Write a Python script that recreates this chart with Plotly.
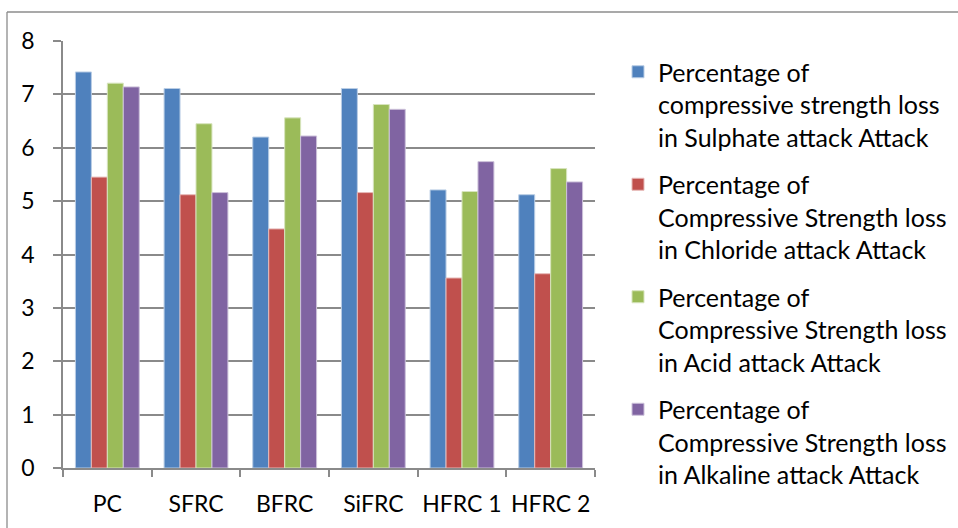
import plotly.graph_objects as go

categories = ["PC", "SFRC", "BFRC", "SiFRC", "HFRC 1", "HFRC 2"]
series_names = [
    "Percentage of<br>compressive strength loss<br>in Sulphate attack Attack",
    "Percentage of<br>Compressive Strength loss<br>in Chloride attack Attack",
    "Percentage of<br>Compressive Strength loss<br>in Acid attack Attack",
    "Percentage of<br>Compressive Strength loss<br>in Alkaline attack Attack",
]
sulphate = [7.42, 7.11, 6.20, 7.11, 5.21, 5.12]
chloride = [5.45, 5.12, 4.48, 5.16, 3.56, 3.64]
acid = [7.21, 6.45, 6.56, 6.81, 5.18, 5.61]
alkaline = [7.14, 5.16, 6.22, 6.72, 5.74, 5.36]
y_ticks = [0, 1, 2, 3, 4, 5, 6, 7, 8]

series_values = [sulphate, chloride, acid, alkaline]
fill_colors = ["#4F81BD", "#C0504D", "#9BBB59", "#8064A2"]
edge_colors = ["#B9CDE5", "#E6B9B8", "#D7E4BD", "#CCC1DA"]

FONT = "Lato"
W, H = 958, 528
ML, MR, MT, MB = 63, 363, 41, 60
PW, PH = W - ML - MR, H - MT - MB

fig = go.Figure()
for i, (name, vals) in enumerate(zip(series_names, series_values)):
    fig.add_trace(go.Bar(
        x=categories, y=vals, name=name, legendgroup=f"g{i}",
        marker=dict(color=fill_colors[i], line=dict(color=edge_colors[i], width=1)),
    ))

grid_color = "#8A8A8A"


def px_x(px):
    return (px - ML) / PW


def px_y(py):
    return (H - MB - py) / PH


# outer chart frame (left and top edges visible, the rest runs off the page)
fig.add_shape(type="line", xref="paper", yref="paper",
              x0=px_x(7), x1=px_x(W + 5), y0=px_y(12), y1=px_y(12),
              line=dict(color="#8C8C8C", width=1.3))
fig.add_shape(type="line", xref="paper", yref="paper",
              x0=px_x(7), x1=px_x(7), y0=px_y(12), y1=px_y(H + 5),
              line=dict(color="#8C8C8C", width=1.3))

fig.update_layout(
    width=W, height=H,
    margin=dict(l=ML, r=MR, t=MT, b=MB, autoexpand=False),
    paper_bgcolor="white", plot_bgcolor="white",
    barmode="group", bargap=0.28, bargroupgap=0,
    font=dict(family=FONT, color="#000000"),
    showlegend=True,
    legend=dict(
        x=px_x(618), y=px_y(49), xanchor="left", yanchor="top",
        font=dict(family=FONT, size=25, color="#000000"),
        valign="top", tracegroupgap=12, itemwidth=30,
        bgcolor="rgba(0,0,0,0)", maxheight=520,
    ),
    xaxis=dict(
        type="category", showgrid=False, showline=True,
        linecolor=grid_color, linewidth=1.5,
        ticks="outside", tickson="boundaries", ticklen=7,
        tickcolor=grid_color, tickwidth=1.5, tickangle=0,
        tickfont=dict(family=FONT, size=23, color="#000000"),
        ticklabelstandoff=15,
        fixedrange=True,
    ),
    yaxis=dict(
        range=[0, 8], tickvals=y_ticks, showgrid=True,
        gridcolor=grid_color, gridwidth=1.5,
        showline=True, linecolor=grid_color, linewidth=1.5,
        ticks="outside", ticklen=8, tickcolor=grid_color, tickwidth=1.5,
        tickfont=dict(family=FONT, size=23, color="#000000"),
        ticklabelstandoff=14, zeroline=False,
        fixedrange=True,
    ),
)

fig.write_html("out.html")
